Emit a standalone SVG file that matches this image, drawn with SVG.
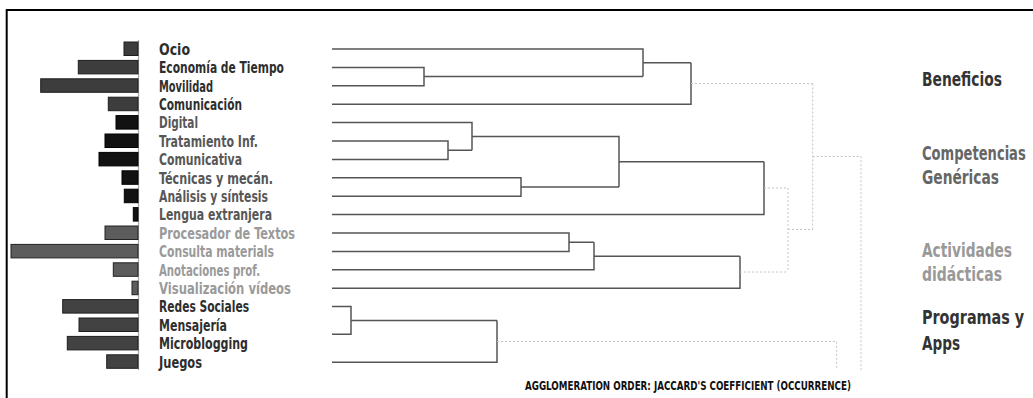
<svg xmlns="http://www.w3.org/2000/svg" width="1033" height="398" viewBox="0 0 1033 398">
<style>
.lbl{font-family:"DejaVu Sans Condensed","Liberation Sans Narrow","Liberation Sans",sans-serif;font-weight:bold;font-size:16.5px;}
.grp{font-family:"DejaVu Sans Condensed","Liberation Sans Narrow","Liberation Sans",sans-serif;font-weight:bold;font-size:19px;}
.foot{font-family:"DejaVu Sans Condensed","Liberation Sans Narrow","Liberation Sans",sans-serif;font-weight:bold;font-size:12px;fill:#111;}
.c1{fill:#2e2e2e}.c2{fill:#575757}.c3{fill:#9a9a9a}
.b1{fill:#3d3d3d;stroke:#1e1e1e;stroke-width:1}
.b2{fill:#121212;stroke:#000;stroke-width:1}
.b3{fill:#5c5c5c;stroke:#222;stroke-width:1}
.b4{fill:#424242;stroke:#1e1e1e;stroke-width:1}
.solid{fill:none;stroke:#555;stroke-width:1.5}
.dot{fill:none;stroke:#c4c4c4;stroke-width:1;stroke-dasharray:2 2}
</style>
<rect width="1033" height="398" fill="#fff"/>
<g id="frame" fill="none" stroke="#000" stroke-width="2">
<path d="M6.7,398 V10 H1033"/>
</g>
<g id="axis"><line x1="138.5" y1="40" x2="138.5" y2="370" stroke="#a8a8a8" stroke-width="1.2"/></g>
<g id="bars">
<rect class="b1" x="124" y="42" width="14" height="13.5"/>
<rect class="b1" x="78.3" y="60.4" width="59.7" height="13.5"/>
<rect class="b1" x="40.7" y="78.8" width="97.3" height="13.5"/>
<rect class="b1" x="108.3" y="97.2" width="29.7" height="13.5"/>
<rect class="b2" x="116" y="115.6" width="22" height="13.5"/>
<rect class="b2" x="105" y="134" width="33" height="13.5"/>
<rect class="b2" x="99" y="152.4" width="39" height="13.5"/>
<rect class="b2" x="122" y="170.8" width="16" height="13.5"/>
<rect class="b2" x="124.3" y="189.2" width="13.7" height="13.5"/>
<rect class="b2" x="133.3" y="207.6" width="4.7" height="13.5"/>
<rect class="b3" x="105" y="226" width="33" height="13.5"/>
<rect class="b3" x="11" y="244.4" width="127" height="13.5"/>
<rect class="b3" x="113.3" y="262.8" width="24.7" height="13.5"/>
<rect class="b3" x="132" y="281.2" width="6" height="13.5"/>
<rect class="b4" x="62.7" y="299.6" width="75.3" height="13.5"/>
<rect class="b4" x="79" y="318" width="59" height="13.5"/>
<rect class="b4" x="67.3" y="336.4" width="70.7" height="13.5"/>
<rect class="b4" x="106.7" y="354.8" width="31.3" height="13.5"/>
</g>
<g id="labels" class="lbl">
<text id="n-ocio" class="c1" x="159" y="54.8" textLength="31" lengthAdjust="spacingAndGlyphs">Ocio</text>
<text id="n-economia" class="c1" x="159" y="73.2" textLength="125" lengthAdjust="spacingAndGlyphs">Economía de Tiempo</text>
<text id="n-movilidad" class="c1" x="159" y="91.6" textLength="54" lengthAdjust="spacingAndGlyphs">Movilidad</text>
<text id="n-comunicacion" class="c1" x="159" y="110" textLength="83" lengthAdjust="spacingAndGlyphs">Comunicación</text>
<text id="n-digital" class="c2" x="159" y="128.4" textLength="39" lengthAdjust="spacingAndGlyphs">Digital</text>
<text id="n-tratamiento" class="c2" x="159" y="146.8" textLength="99" lengthAdjust="spacingAndGlyphs">Tratamiento Inf.</text>
<text id="n-comunicativa" class="c2" x="159" y="165.2" textLength="83" lengthAdjust="spacingAndGlyphs">Comunicativa</text>
<text id="n-tecnicas" class="c2" x="159" y="183.6" textLength="114" lengthAdjust="spacingAndGlyphs">Técnicas y mecán.</text>
<text id="n-analisis" class="c2" x="159" y="202" textLength="109" lengthAdjust="spacingAndGlyphs">Análisis y síntesis</text>
<text id="n-lengua" class="c2" x="159" y="220.4" textLength="113" lengthAdjust="spacingAndGlyphs">Lengua extranjera</text>
<text id="n-procesador" class="c3" x="159" y="238.8" textLength="136" lengthAdjust="spacingAndGlyphs">Procesador de Textos</text>
<text id="n-consulta" class="c3" x="159" y="257.2" textLength="115" lengthAdjust="spacingAndGlyphs">Consulta materials</text>
<text id="n-anotaciones" class="c3" x="159" y="275.6" textLength="101" lengthAdjust="spacingAndGlyphs">Anotaciones prof.</text>
<text id="n-visualizacion" class="c3" x="159" y="294" textLength="132" lengthAdjust="spacingAndGlyphs">Visualización vídeos</text>
<text id="n-redes" class="c1" x="159" y="312.4" textLength="90" lengthAdjust="spacingAndGlyphs">Redes Sociales</text>
<text id="n-mensajeria" class="c1" x="159" y="330.8" textLength="68" lengthAdjust="spacingAndGlyphs">Mensajería</text>
<text id="n-microblogging" class="c1" x="159" y="349.2" textLength="89" lengthAdjust="spacingAndGlyphs">Microblogging</text>
<text id="n-juegos" class="c1" x="159" y="367.6" textLength="43" lengthAdjust="spacingAndGlyphs">Juegos</text>
</g>
<g id="connectors">
<path class="solid" d="M332,49 H643 V76.6 M332,67.4 H424 V85.8 H332 M424,76.6 H643 M643,62.8 H691 M332,104.2 H691 V62.8"/>
<path class="solid" d="M332,141 H448 V159.4 H332 M448,150.2 H472 M332,122.6 H472 V150.2 M472,136.4 H619 V187 M332,177.8 H521 V196.2 H332 M521,187 H619 M619,161.7 H764 M332,214.6 H764 V161.7"/>
<path class="solid" d="M332,233 H569 V251.4 H332 M569,242.2 H594 M332,269.8 H594 V242.2 M594,256.3 H740 M332,288.2 H740 V256.3"/>
<path class="solid" d="M332,306.6 H351 V334.3 H332 M351,320.6 H497 M332,362.3 H497 V320.6"/>
<path class="dot" d="M691,83.5 H812.7 M764,188 H788 M740,272 H788 M788,188 V272 M788,229.5 H812.7 M812.7,83.5 V229.5 M812.7,156.5 H861 V370 M497,341.5 H836.7 V370"/>
</g>
<g id="g-beneficios" class="grp"><text x="922" y="86" fill="#333" textLength="80" lengthAdjust="spacingAndGlyphs">Beneficios</text></g>
<g id="g-competencias" class="grp" fill="#666"><text transform="translate(922,159.5) scale(0.78,1)" textLength="133" lengthAdjust="spacingAndGlyphs">Competencias</text><text x="922" y="184" textLength="77" lengthAdjust="spacingAndGlyphs">Genéricas</text></g>
<g id="g-actividades" class="grp" fill="#999"><text x="922" y="256.7" textLength="90" lengthAdjust="spacingAndGlyphs">Actividades</text><text x="922" y="280.5" textLength="80" lengthAdjust="spacingAndGlyphs">didácticas</text></g>
<g id="g-programas" class="grp" fill="#333"><text transform="translate(922,324.3) scale(0.78,1)" textLength="131" lengthAdjust="spacingAndGlyphs">Programas y</text><text x="922" y="350" textLength="38" lengthAdjust="spacingAndGlyphs">Apps</text></g>
<text class="foot" x="525" y="390" textLength="326" lengthAdjust="spacingAndGlyphs">AGGLOMERATION ORDER: JACCARD'S COEFFICIENT (OCCURRENCE)</text>
</svg>
